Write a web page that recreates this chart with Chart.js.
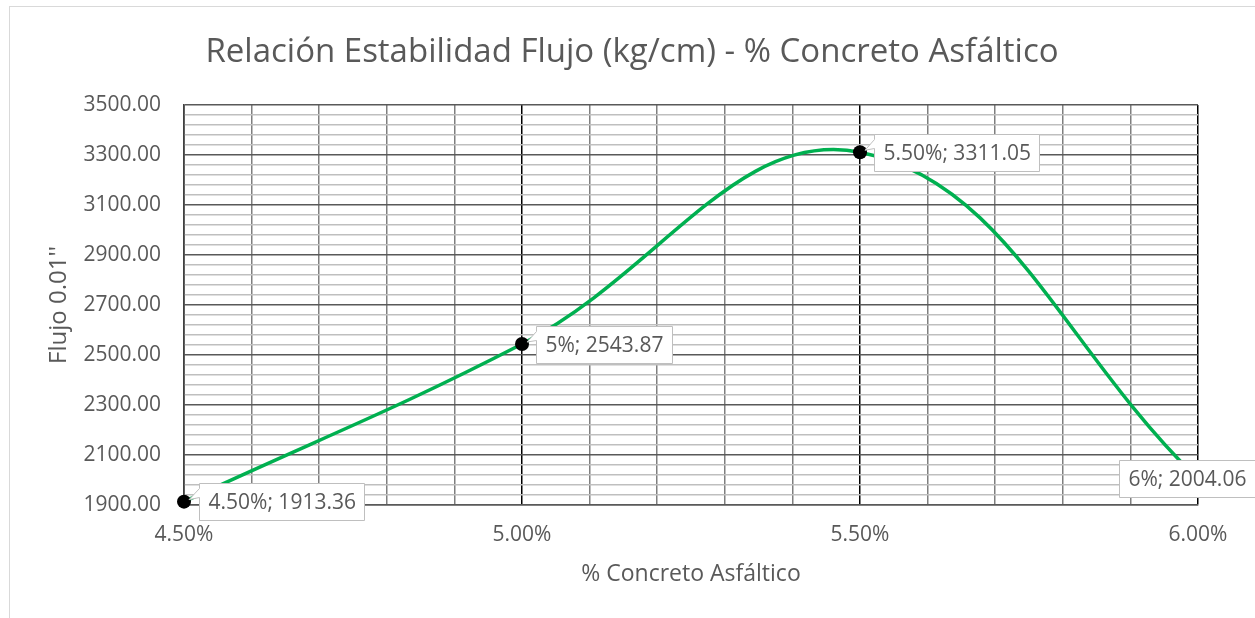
<!DOCTYPE html>
<html>
<head>
<meta charset="utf-8">
<script src="https://cdn.jsdelivr.net/npm/chart.js@4.4.1/dist/chart.umd.min.js"></script>
<style>
  html, body { margin: 0; padding: 0; background: #fff; overflow: hidden; }
</style>
</head>
<body>
<canvas id="chart" width="1255" height="618"></canvas>
<script>
// Relación Estabilidad Flujo vs % Concreto Asfáltico
const asphaltPct = [4.5, 5.0, 5.5, 6.0];
const flowValues = [1913.36, 2543.87, 3311.05, 2004.06];
const pctLabels = ['4.50%', '5%', '5.50%', '6%'];   // x text as printed in the data labels
const xMajorTicks = [4.5, 5.0, 5.5, 6.0];
const yMajorTicks = [1900, 2100, 2300, 2500, 2700, 2900, 3100, 3300, 3500];
const chartTitle = 'Relación Estabilidad Flujo (kg/cm) - % Concreto Asfáltico';

const FONT = "'Open Sans', sans-serif";
const TEXT = '#595959';

Chart.defaults.font.family = FONT;
Chart.defaults.color = TEXT;

function isMajor(list, v) {
    return list.some(m => Math.abs(m - v) < 1e-6);
}

// light grey frame of the chart object (runs off the right/bottom edge) + the title,
// which Excel centres on the whole chart object rather than on the canvas
const chartFrame = {
    id: 'chartFrame',
    beforeDraw(chart, args, opts) {
        const ctx = chart.ctx;
        ctx.save();
        ctx.strokeStyle = '#d9d9d9';
        ctx.lineWidth = 1;
        ctx.strokeRect(9.5, 6.5, 2000, 2000);
        ctx.font = opts.titleSize + 'px ' + FONT;
        ctx.fillStyle = TEXT;
        ctx.textAlign = 'center';
        ctx.textBaseline = 'middle';
        ctx.fillText(chartTitle, opts.titleX, opts.titleY);
        ctx.restore();
    }
};

// Excel-like data callouts: white box, grey border, small wedge pointing at the marker
const calloutLabels = {
    id: 'calloutLabels',
    afterDatasetsDraw(chart, args, opts) {
        const ctx = chart.ctx;
        const meta = chart.getDatasetMeta(0);
        ctx.save();
        ctx.font = opts.fontSize + 'px ' + FONT;
        ctx.textBaseline = 'middle';
        meta.data.forEach((pt, i) => {
            const text = pctLabels[i] + '; ' + flowValues[i].toFixed(2);
            const w = Math.round(ctx.measureText(text).width + 2 * opts.padX);
            const h = opts.height;
            const shift = opts.shift[i];
            const bx = Math.round(pt.x + shift) + 0.5;
            const by = Math.round(pt.y - h / 2) + 0.5;

            ctx.beginPath();
            ctx.moveTo(bx, by);
            ctx.lineTo(bx + w, by);
            ctx.lineTo(bx + w, by + h);
            ctx.lineTo(bx, by + h);
            if (shift > 0) {
                ctx.lineTo(bx, by + 14);
                ctx.lineTo(pt.x + 5, pt.y - 2);
                ctx.lineTo(bx, by + 5);
            }
            ctx.closePath();
            ctx.fillStyle = '#fff';
            ctx.fill();
            ctx.strokeStyle = '#bfbfbf';
            ctx.lineWidth = 1;
            ctx.stroke();

            ctx.fillStyle = TEXT;
            ctx.fillText(text, bx + opts.padX, by + h / 2 + 1);
        });
        ctx.restore();
    }
};

new Chart(document.getElementById('chart'), {
    type: 'scatter',
    data: {
        datasets: [{
            label: 'Flujo',
            data: asphaltPct.map((x, i) => ({ x: x, y: flowValues[i] })),
            showLine: true,
            clip: false,
            borderColor: '#00b050',
            borderWidth: 3.5,
            tension: 0.4,
            pointRadius: 7,
            pointBackgroundColor: '#000',
            pointBorderWidth: 0
        }]
    },
    options: {
        responsive: false,
        animation: false,
        events: [],
        layout: {
            padding: { left: 0, right: 57, top: 105, bottom: 0 }
        },
        plugins: {
            legend: { display: false },
            tooltip: { enabled: false },
            title: { display: false },
            chartFrame: {
                titleSize: 33,
                titleX: 632,
                titleY: 53
            },
            calloutLabels: {
                fontSize: 21,
                padX: 9,
                height: 37,
                shift: [15, 14, 14, -79]
            }
        },
        scales: {
            x: {
                type: 'linear',
                min: 4.5,
                max: 6.0,
                afterFit: scale => { scale.height = 113; },
                ticks: {
                    stepSize: 0.1,
                    autoSkip: false,
                    maxRotation: 0,
                    padding: 17,
                    color: TEXT,
                    font: { size: 21 },
                    callback: v => isMajor(xMajorTicks, v) ? v.toFixed(2) + '%' : ''
                },
                grid: {
                    drawTicks: false,
                    lineWidth: 1.5,
                    color: ctx => isMajor(xMajorTicks, ctx.tick.value) ? '#000' : '#7f7f7f'
                },
                border: { color: '#595959', width: 1.5 },
                title: {
                    display: true,
                    text: '% Concreto Asfáltico',
                    color: TEXT,
                    font: { size: 23 },
                    padding: { top: 0, bottom: 30 }
                }
            },
            y: {
                min: 1900,
                max: 3500,
                afterFit: scale => { scale.width = 184; },
                ticks: {
                    stepSize: 40,
                    autoSkip: false,
                    padding: 23,
                    color: TEXT,
                    font: { size: 21 },
                    callback: v => isMajor(yMajorTicks, v) ? v.toFixed(2) : ''
                },
                grid: {
                    drawTicks: false,
                    lineWidth: 1.5,
                    color: ctx => isMajor(yMajorTicks, ctx.tick.value) ? '#595959' : '#bfbfbf'
                },
                border: { color: '#404040', width: 1.5 },
                title: {
                    display: true,
                    text: "Flujo 0.01''",
                    color: TEXT,
                    font: { size: 24 },
                    padding: { top: 45, bottom: 0 }
                }
            }
        }
    },
    plugins: [chartFrame, calloutLabels]
});
</script>
</body>
</html>
